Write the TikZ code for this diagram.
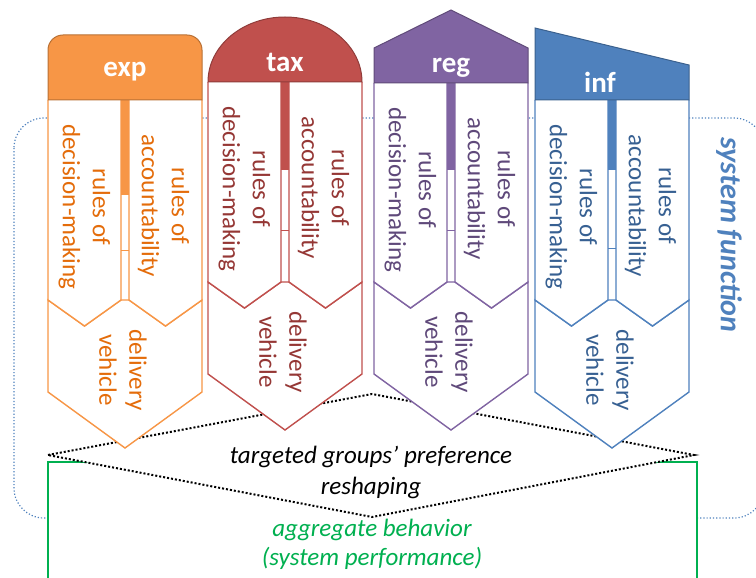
\documentclass[tikz,border=0pt]{standalone}
\usepackage{fontspec}
\setmainfont{Carlito}

\definecolor{expcol}{HTML}{F79646}
\definecolor{exptxt}{HTML}{E46C0A}
\definecolor{taxcol}{HTML}{C0504D}
\definecolor{taxtxt}{HTML}{953735}
\definecolor{regcol}{HTML}{8064A2}
\definecolor{regtxt}{HTML}{5F497A}
\definecolor{infcol}{HTML}{4F81BD}
\definecolor{inftxt}{HTML}{376092}
\definecolor{perfcol}{HTML}{00B050}

\tikzset{
  panel/.style={draw=#1, line width=1.4pt, fill=white},
  header/.style={draw=#1!75!black, fill=#1, line width=1pt},
  paneltext/.style={text=#1, rotate=-90, align=center, font=\fontsize{25}{30}\selectfont},
  headtext/.style={text=white, font=\fontsize{29}{34}\selectfont\bfseries},
}

% #1 left x, #2 header bottom, #3 chevron y, #4 stem end, #5 stem line,
% #6 colour, #7 text colour, #8 name
\newcommand{\policybody}[8]{%
  \draw[panel=#6] (#1,#3) -- (#1,{#3+92}) -- ({#1+77},{#3+148}) -- ({#1+154},{#3+92})
    -- ({#1+154},#3) -- ({#1+117.5},{#3+26}) -- ({#1+81},#3) -- ({#1+73},#3)
    -- ({#1+36.5},{#3+26}) -- cycle;
  \draw[panel=#6] (#1,#2) -- (#1,#3) -- ({#1+36.5},{#3+26}) -- ({#1+73},#3) -- ({#1+73},#2);
  \draw[panel=#6] ({#1+81},#2) -- ({#1+81},#3) -- ({#1+117.5},{#3+26}) -- ({#1+154},#3) -- ({#1+154},#2);
  \fill[#6] ({#1+73},#2) rectangle ({#1+81},#4);
  \draw[#6, line width=1pt] ({#1+73},#5) -- ({#1+81},#5);
  \node[paneltext=#7] (#8-dm) at ({#1+36.5},{#2+107}) {rules of\\decision-making};
  \node[paneltext=#7] (#8-ac) at ({#1+115.5},{#2+106}) {rules of\\accountability};
  \node[paneltext=#7] (#8-dv) at ({#1+75},{#3+70}) {delivery\\vehicle};
}

\begin{document}
\begin{tikzpicture}[x=1pt, y=-1pt]
  \useasboundingbox (0,0) rectangle (756,578);
  \clip (0,0) rectangle (756,578);

  % system function frame
  \draw[infcol, dotted, line width=1.2pt, rounded corners=30pt] (14,118) rectangle (764,518);

  % aggregate behavior
  \draw[perfcol, fill=white, line width=1.5pt] (48,462) rectangle (697,600);
  \node[text=perfcol, align=center, font=\fontsize{25}{29}\selectfont\itshape] (perf) at (372,544) {aggregate behavior\\(system performance)};

  % preference reshaping
  \coordinate (pl) at (48,455);
  \coordinate (pt) at (372,394);
  \coordinate (pr) at (694,455);
  \coordinate (pb) at (372,517);
  \draw[fill=white, line width=2pt, dash pattern=on 2pt off 2pt] (pl) -- (pt) -- (pr) -- (pb) -- cycle;
  \node[align=center, font=\fontsize{25}{31}\selectfont\itshape] (pref) at (371,472) {targeted groups’ preference\\reshaping};

  \policybody{48}{100}{300}{195}{250}{expcol}{exptxt}{exp}
  \policybody{208}{82}{282}{170}{230}{taxcol}{taxtxt}{tax}
  \policybody{374}{83}{282}{170}{230}{regcol}{regtxt}{reg}
  \policybody{535}{100}{300}{170}{248}{infcol}{inftxt}{inf}

  % headers
  \draw[header=expcol] (48,100) [rounded corners=15pt] -- (48,35) -- (202,35) [sharp corners] -- (202,100) -- cycle;
  \draw[header=taxcol] (208,82) arc[start angle=180, end angle=360, x radius=77, y radius=65] -- cycle;
  \draw[header=regcol] (374,83) -- (374,48) -- (451,10) -- (528,48) -- (528,83) -- cycle;
  \draw[header=infcol] (535,100) -- (535,28) -- (689,65) -- (689,100) -- cycle;
  \node[headtext] (exp) at (125,72) {exp};
  \node[headtext] (tax) at (285,62) {tax};
  \node[headtext] (reg) at (451,68) {reg};
  \node[headtext] (inf) at (600,82) {inf};

  \node[text=infcol, rotate=-90, font=\fontsize{30}{36}\selectfont\bfseries\itshape] (sysfn) at (729,235) {system function};
\end{tikzpicture}
\end{document}
